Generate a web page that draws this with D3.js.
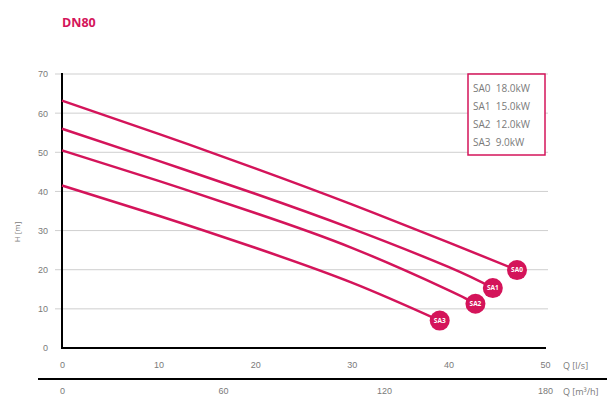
<!DOCTYPE html>
<html><head><meta charset="utf-8">
<script src="https://cdn.jsdelivr.net/npm/d3@7"></script>
<style>body{margin:0;background:#fff;} svg{display:block;font-family:"Open Sans",Arial,sans-serif;}</style>
</head><body><svg id="c" width="607" height="400"></svg>
<script>
const title = "DN80";
const seriesNames = ["SA0", "SA1", "SA2", "SA3"];
const legendLabels = ["SA0  18.0kW", "SA1  15.0kW", "SA2  12.0kW", "SA3  9.0kW"];
const qSA0 = [0, 10, 20, 30, 40, 47.1];
const hSA0 = [63.2, 54.7, 45.9, 36.7, 27.0, 19.9];
const qSA1 = [0, 10, 20, 30, 40, 44.6];
const hSA1 = [56.0, 47.8, 39.4, 30.5, 20.7, 15.3];
const qSA2 = [0, 10, 20, 30, 40, 42.8];
const hSA2 = [50.5, 42.7, 34.5, 25.6, 14.8, 11.3];
const qSA3 = [0, 10, 20, 30, 39.1];
const hSA3 = [41.5, 33.8, 25.6, 16.7, 7.0];
const yTicks = [0, 10, 20, 30, 40, 50, 60, 70];
const xTicks = [0, 10, 20, 30, 40, 50];
const x2Ticks = [0, 60, 120, 180];

const series = [[qSA0,hSA0],[qSA1,hSA1],[qSA2,hSA2],[qSA3,hSA3]].map((s,i)=>({
  name: seriesNames[i], pts: s[0].map((q,j)=>[q, s[1][j]])
}));

const red = "#d4145a", grey = "#7a7a7a";
const svg = d3.select("#c");
const x = d3.scaleLinear().domain([0,50]).range([62,545]);
const y = d3.scaleLinear().domain([0,70]).range([348,74]);
const x2 = d3.scaleLinear().domain([0,180]).range([62,545]);

svg.append("text").attr("x",62).attr("y",27).text(title)
  .attr("fill",red).attr("font-weight","bold").attr("font-size",12.5);

// grid
svg.append("g").selectAll("line").data(yTicks.filter(d=>d>0)).join("line")
  .attr("x1",55).attr("x2",548).attr("y1",d=>y(d)).attr("y2",d=>y(d))
  .attr("stroke","#cfcfcf").attr("stroke-width",1);

// y axis
const ya = svg.append("g").attr("transform","translate(62,0)")
  .call(d3.axisLeft(y).tickValues(yTicks).tickSize(0).tickPadding(14));
ya.select(".domain").remove();
ya.selectAll("text").attr("fill",grey).attr("font-size",9);
svg.append("line").attr("x1",62).attr("x2",62).attr("y1",73).attr("y2",349)
  .attr("stroke","#000").attr("stroke-width",2);

// x axis
const xa = svg.append("g").attr("transform","translate(0,348)")
  .call(d3.axisBottom(x).tickValues(xTicks).tickSize(0).tickPadding(14));
xa.select(".domain").remove();
xa.selectAll("text").attr("fill",grey).attr("font-size",9);
svg.append("line").attr("x1",61).attr("x2",546).attr("y1",348).attr("y2",348)
  .attr("stroke","#000").attr("stroke-width",2);
svg.append("text").attr("x",563).attr("y",369).text("Q [l/s]").attr("fill",grey).attr("font-size",9);

// second x axis
svg.append("line").attr("x1",38).attr("x2",607).attr("y1",379).attr("y2",379)
  .attr("stroke","#000").attr("stroke-width",2);
const xb = svg.append("g").attr("transform","translate(0,379)")
  .call(d3.axisBottom(x2).tickValues(x2Ticks).tickSize(0).tickPadding(9));
xb.select(".domain").remove();
xb.selectAll("text").attr("fill",grey).attr("font-size",9);
svg.append("text").attr("x",563).attr("y",395).text("Q [m³/h]").attr("fill",grey).attr("font-size",9);

// y label
svg.append("text").attr("transform","translate(20,232) rotate(-90)").attr("text-anchor","middle")
  .text("H [m]").attr("fill",grey).attr("font-size",8);

// curves
const line = d3.line().x(d=>x(d[0])).y(d=>y(d[1])).curve(d3.curveNatural);
svg.append("g").selectAll("path").data(series).join("path")
  .attr("d",d=>line(d.pts)).attr("fill","none").attr("stroke",red).attr("stroke-width",2.5);

const ends = svg.append("g").selectAll("g").data(series).join("g")
  .attr("transform",d=>{const p=d.pts[d.pts.length-1];return `translate(${x(p[0])},${y(p[1])})`;});
ends.append("circle").attr("r",10).attr("fill",red);
ends.append("text").text(d=>d.name).attr("text-anchor","middle").attr("dy","0.35em")
  .attr("fill","#fff").attr("font-size",6.5).attr("font-weight","bold");

// legend
svg.append("rect").attr("x",468).attr("y",74).attr("width",77).attr("height",81)
  .attr("fill","#fff").attr("stroke",red).attr("stroke-width",1.5);
svg.append("g").selectAll("text").data(legendLabels).join("text")
  .attr("x",473).attr("y",(d,i)=>92+i*18).text(d=>d).attr("xml:space","preserve")
  .style("white-space","pre")
  .attr("fill",grey).attr("font-size",10);
</script></body></html>
